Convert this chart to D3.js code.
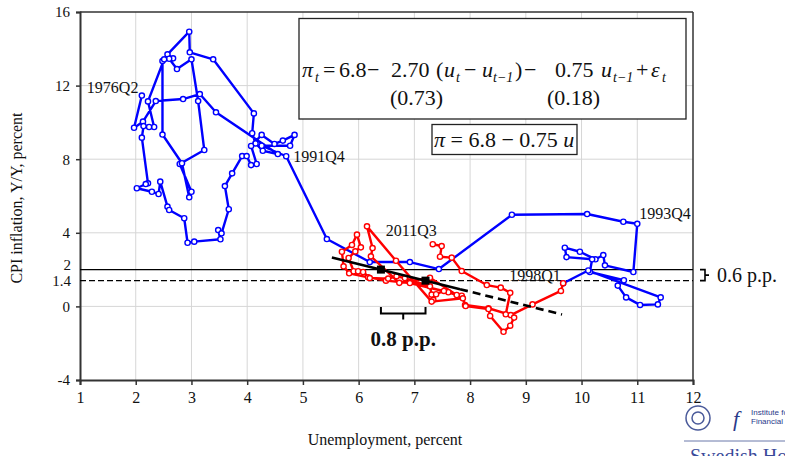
<!DOCTYPE html>
<html><head><meta charset="utf-8">
<script src="https://cdn.jsdelivr.net/npm/d3@7"></script>
<style>
html,body{margin:0;padding:0;background:#fff;}
svg{display:block;font-family:"Liberation Serif","Times New Roman",serif;}
</style></head>
<body>
<svg id="c" width="785" height="456"></svg>
<script>
// ---------- data ----------
const xTicks = [1,2,3,4,5,6,7,8,9,10,11,12];
const yTicks = [16,12,8,4,0,-4];
const yGrid = [12,8,4,0];
const refLines = [2, 1.4];           // solid 2 %, dashed 1.4 %
const refLabels = ["2","1.4"];
const regIntercept = 6.8, regSlope = -0.75;
const regSolidU = [5.52, 7.82];
const regDashedU = [7.82, 9.65];
const squaresU = [6.4, 7.2];

// 1976Q2 - 1998Q1 (unemployment, inflation)
const blueU = [2.11,1.97,2.13,2.36,2.85,3.15,3.44,4.55,4.28,4.15,4.09,4.12,3.39,2.97,2.96,2.57,2.67,2.60,2.74,3.00,3.12,3.23,2.79,3.00,2.96,2.83,2.48,2.48,2.51,2.22,2.33,2.24,2.14,2.11,2.22,2.18,2.02,2.29,2.41,2.44,2.57,2.60,2.87,2.93,3.05,3.52,3.48,3.54,3.67,3.60,3.73,3.91,3.99,4.07,4.17,4.07,4.26,4.49,4.64,4.85,4.77,4.26,4.70,5.43,6.20,6.92,7.44,8.75,10.10,10.75,11.00,10.93,10.42,10.39,10.25,9.97,9.70,9.73,10.19,10.15,10.76,10.65,10.80,11.05,11.37,11.42,10.12,9.67];
const blueP = [11.46,9.71,10.04,11.16,11.27,11.54,10.55,8.28,8.46,8.86,9.41,10.49,13.43,13.81,14.93,13.70,13.48,13.46,12.90,13.43,11.16,8.50,7.74,6.23,5.93,7.78,9.34,13.34,13.43,11.14,9.75,9.75,9.80,9.17,6.69,6.65,6.42,6.23,6.11,6.78,5.42,5.24,4.79,3.46,3.52,3.65,4.15,3.97,5.28,6.54,7.23,8.17,8.17,7.68,7.74,8.72,9.32,8.83,9.01,9.32,8.73,8.73,8.16,3.66,2.41,2.41,2.03,4.98,5.02,4.60,4.49,1.87,2.23,2.79,2.56,2.97,3.19,2.68,2.56,1.87,1.42,1.13,0.49,0.08,0.11,0.49,1.95,1.26];

// 1998Q1 - 2011Q3
const redU = [9.67,9.63,9.12,8.73,8.33,7.91,7.85,7.61,6.92,6.49,6.17,5.83,5.73,5.70,5.88,5.97,6.04,5.94,5.82,5.91,5.99,6.08,6.20,6.53,6.68,6.83,7.28,7.31,7.34,7.39,7.53,7.76,7.28,6.73,6.22,6.25,6.15,6.67,7.31,7.87,7.92,8.33,8.36,8.60,8.72,8.79,8.64,8.72,8.55,8.30,7.85,7.67,7.46,7.49,7.33];
const redP = [1.26,0.84,0.11,-0.47,-0.10,0.08,0.58,0.77,1.27,1.40,1.58,1.80,2.18,2.97,3.34,3.90,3.21,2.99,2.63,1.91,1.91,1.87,1.54,1.51,1.64,1.54,1.09,0.64,0.36,0.66,0.84,0.62,1.56,1.28,2.72,3.17,4.35,2.48,0.26,0.44,0.02,-0.14,-0.52,-1.38,-1.05,-0.61,-0.43,0.74,1.02,1.16,1.92,2.65,2.70,3.28,3.38];

const pointLabels = [
  {t:"1976Q2", u:2.11, p:11.46, dx:-55, dy:-3},
  {t:"1991Q4", u:4.70, p:8.16, dx:7, dy:6},
  {t:"1993Q4", u:11.00, p:4.49, dx:2, dy:-5},
  {t:"1998Q1", u:9.67, p:1.26, dx:-54, dy:-2},
  {t:"2011Q3", u:7.33, p:3.38, dx:-47, dy:-8}
];

// ---------- layout ----------
const svg = d3.select("#c");
const x = d3.scaleLinear().domain([1,12]).range([80,693]);
const y = d3.scaleLinear().domain([-4,16]).range([380,12]);

// grid
svg.append("g").selectAll("line").data(xTicks.slice(1,-1)).join("line")
  .attr("x1",d=>x(d)).attr("x2",d=>x(d)).attr("y1",y(16)).attr("y2",y(-4))
  .attr("stroke","#d6d6d6").attr("stroke-width",1);
svg.append("g").selectAll("line").data(yGrid).join("line")
  .attr("x1",x(1)).attr("x2",x(12)).attr("y1",d=>y(d)).attr("y2",d=>y(d))
  .attr("stroke","#d6d6d6").attr("stroke-width",1);

// axes
const xAxis = d3.axisBottom(x).tickValues(xTicks).tickSize(5).tickPadding(7).tickFormat(d=>String(d));
const gx = svg.append("g").attr("transform",`translate(0,${y(-4)})`).call(xAxis);
gx.attr("font-family","Liberation Serif");
gx.selectAll("text").attr("font-size",16).attr("fill","#111");
gx.select(".domain").attr("stroke","#333").attr("stroke-width",2);
gx.selectAll(".tick line").attr("stroke","#333").attr("stroke-width",1.5);

const yAxis = d3.axisLeft(y).tickValues(yTicks).tickSize(4).tickPadding(6).tickFormat(d=>String(d));
const gy = svg.append("g").attr("transform",`translate(${x(1)},0)`).call(yAxis);
gy.attr("font-family","Liberation Serif");
gy.selectAll("text").attr("font-size",15).attr("fill","#111");
gy.select(".domain").attr("stroke","#333").attr("stroke-width",2);
gy.selectAll(".tick line").attr("stroke","#333").attr("stroke-width",1.5);

// top & right frame
svg.append("line").attr("x1",x(1)).attr("x2",x(12)).attr("y1",y(16)).attr("y2",y(16)).attr("stroke","#333").attr("stroke-width",1.5);
svg.append("line").attr("x1",x(12)).attr("x2",x(12)).attr("y1",y(16)).attr("y2",y(-4)).attr("stroke","#333").attr("stroke-width",1.5);

// reference lines
refLines.forEach((v,i)=>{
  svg.append("line").attr("x1",x(1)).attr("x2",x(12)).attr("y1",y(v)).attr("y2",y(v))
    .attr("stroke","#000").attr("stroke-width",1.3).attr("stroke-dasharray",i===1?"6,3":null);
  svg.append("text").attr("x",x(1)-9).attr("y",y(v)+(i===0?0:5)).attr("text-anchor","end")
    .attr("font-size",15).attr("fill","#111").text(refLabels[i]);
});

// series
function series(U,P,color){
  const pts = U.map((u,i)=>[u,P[i]]);
  svg.append("path").datum(pts)
    .attr("d",d3.line().x(d=>x(d[0])).y(d=>y(d[1])))
    .attr("fill","none").attr("stroke",color).attr("stroke-width",2.4).attr("stroke-linejoin","round");
  svg.append("g").selectAll("circle").data(pts).join("circle")
    .attr("cx",d=>x(d[0])).attr("cy",d=>y(d[1])).attr("r",2.6)
    .attr("fill","#fff").attr("stroke",color).attr("stroke-width",1.4);
}
series(blueU,blueP,"#0000ff");
series(redU,redP,"#ff0000");

// regression line
const f = u=>regIntercept+regSlope*u;
svg.append("line").attr("x1",x(regSolidU[0])).attr("y1",y(f(regSolidU[0])))
  .attr("x2",x(regSolidU[1])).attr("y2",y(f(regSolidU[1])))
  .attr("stroke","#000").attr("stroke-width",2.6);
svg.append("line").attr("x1",x(regDashedU[0])).attr("y1",y(f(regDashedU[0])))
  .attr("x2",x(regDashedU[1])).attr("y2",y(f(regDashedU[1])))
  .attr("stroke","#000").attr("stroke-width",2.6).attr("stroke-dasharray","8,5");
svg.append("g").selectAll("rect").data(squaresU).join("rect")
  .attr("x",d=>x(d)-4).attr("y",d=>y(f(d))-4).attr("width",8).attr("height",8).attr("fill","#000");

// point labels
svg.append("g").selectAll("text").data(pointLabels).join("text")
  .attr("x",d=>x(d.u)+d.dx).attr("y",d=>y(d.p)+d.dy)
  .attr("font-size",16).attr("fill","#111").text(d=>d.t);

// 0.8 p.p. bracket
{
  const x0=x(squaresU[0]), x1=x(squaresU[1]), yt=y(0)+0.5, yb=y(0)+7, xm=(x0+x1)/2;
  svg.append("path").attr("d",`M${x0},${yt}V${yb}H${x1}V${yt}M${xm},${yb}V${yb+6}`)
    .attr("fill","none").attr("stroke","#000").attr("stroke-width",2);
  svg.append("text").attr("x",xm).attr("y",yb+33).attr("text-anchor","middle")
    .attr("font-size",21).attr("font-weight","bold").attr("fill","#111").text("0.8 p.p.");
}
// 0.6 p.p. bracket
{
  const ya=y(refLines[0]), yb=y(refLines[1]), xa=x(12)+7, xb=xa+5;
  svg.append("path").attr("d",`M${xa},${ya}H${xb}V${yb}H${xa}M${xb},${(ya+yb)/2}H${xb+4}`)
    .attr("fill","none").attr("stroke","#000").attr("stroke-width",1.6);
  svg.append("text").attr("x",xb+12).attr("y",(ya+yb)/2+7).attr("font-size",20).attr("fill","#111").text("0.6 p.p.");
}

// equation boxes
svg.append("rect").attr("x",299).attr("y",18.5).attr("width",387).attr("height",100.5)
  .attr("fill","#fff").attr("stroke","#222").attr("stroke-width",1.3);
svg.append("rect").attr("x",432).attr("y",124.5).attr("width",145).attr("height",30)
  .attr("fill","#fff").attr("stroke","#222").attr("stroke-width",1.3);

const eq = svg.append("g").attr("font-size",22).attr("fill","#111");
function piece(t,xx,yy,opt={}){
  const e = eq.append("text").attr("x",xx).attr("y",yy).text(t);
  if(opt.i) e.attr("font-style","italic");
  if(opt.s) e.attr("font-size",opt.s);
  return e;
}
const b1 = 77, sub = b1+5, ss = 14;
piece("π",302,b1,{i:1}); piece("t",315,sub,{i:1,s:ss});
piece("=",323,b1); piece("6.8",339,b1); piece("−",367,b1);
piece("2.70",391,b1);
piece("(",436,b1); piece("u",444,b1,{i:1}); piece("t",456,sub,{i:1,s:ss});
piece("−",464,b1); piece("u",482,b1,{i:1}); piece("t−1",493,sub,{i:1,s:ss}); piece(")",515,b1);
piece("−",524,b1); piece("0.75",555,b1);
piece("u",601,b1,{i:1}); piece("t−1",613,sub,{i:1,s:ss});
piece("+",636,b1); piece("ε",651,b1,{i:1}); piece("t",662,sub,{i:1,s:ss});
piece("(0.73)",390,105); piece("(0.18)",547,105);
const eq2 = eq.append("text").attr("x",434).attr("y",147);
eq2.append("tspan").attr("font-style","italic").text("π");
eq2.append("tspan").text(" = 6.8 − 0.75 ");
eq2.append("tspan").attr("font-style","italic").text("u");

// axis titles
svg.append("text").attr("x",385).attr("y",445).attr("text-anchor","middle")
  .attr("font-size",16).attr("fill","#111").text("Unemployment, percent");
svg.append("text").attr("transform","translate(22,198) rotate(-90)").attr("text-anchor","middle")
  .attr("font-size",16).attr("fill","#111").text("CPI inflation, Y/Y, percent");

// logo (bottom right)
const lg = svg.append("g");
lg.append("circle").attr("cx",698).attr("cy",418).attr("r",12).attr("fill","none").attr("stroke","#4a5a9a").attr("stroke-width",1.5);
lg.append("circle").attr("cx",698).attr("cy",418).attr("r",6).attr("fill","none").attr("stroke","#4a5a9a").attr("stroke-width",1.5);
lg.append("text").attr("x",733).attr("y",426).attr("font-size",22).attr("font-style","italic").attr("fill","#2a3a8a").text("f");
lg.append("text").attr("x",751).attr("y",415).attr("font-size",8).attr("font-family","Liberation Sans").attr("fill","#2a3a8a").text("Institute for");
lg.append("text").attr("x",751).attr("y",424).attr("font-size",8).attr("font-family","Liberation Sans").attr("fill","#2a3a8a").text("Financial Research");
lg.append("line").attr("x1",684).attr("x2",785).attr("y1",441).attr("y2",441).attr("stroke","#6a78aa").attr("stroke-width",1);
lg.append("text").attr("x",690).attr("y",463).attr("font-size",20).attr("fill","#3a4a9a").text("Swedish House of Finance");
</script>
</body></html>
